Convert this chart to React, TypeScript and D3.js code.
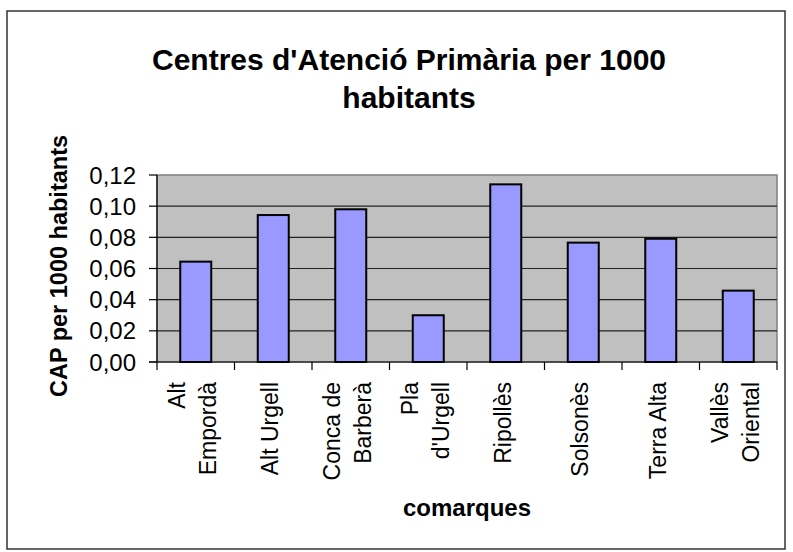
import React from 'react';
import * as d3 from 'd3';

const categories = ["Alt\nEmpordà", "Alt Urgell", "Conca de\nBarberà", "Pla\nd'Urgell", "Ripollès", "Solsonès", "Terra Alta", "Vallès\nOriental"];
const values = [0.0644, 0.0943, 0.098, 0.030, 0.114, 0.0766, 0.0791, 0.0458];
const yTicks = [0, 0.02, 0.04, 0.06, 0.08, 0.10, 0.12];
const titleLines = ["Centres d'Atenció Primària per 1000", "habitants"];
const yTitle = "CAP per 1000 habitants";
const xTitle = "comarques";

const W = 793, H = 552;
const plot = { left: 157, right: 777, top: 175, bottom: 362 };
const FONT = "'Liberation Sans', Arial, sans-serif";

export default function App() {
  const x = d3.scaleBand<string>().domain(categories).range([plot.left, plot.right]).paddingInner(0.6).paddingOuter(0.3);
  const y = d3.scaleLinear().domain([0, 0.12]).range([plot.bottom, plot.top]);
  const fmt = (v: number) => d3.format('.2f')(v).replace('.', ',');
  const step = x.step();
  const boundaries = d3.range(categories.length + 1).map(i => plot.left + i * step);

  return (
    <svg width={W} height={H} style={{ position: 'absolute', left: 0, top: 0, background: '#fff' }} fontFamily={FONT}>
      <rect x={7} y={11} width={778} height={538} fill="#fff" stroke="#333" strokeWidth={1.5} />
      {/* title */}
      {titleLines.map((t, i) => (
        <text key={i} x={409} y={70 + i * 38} textAnchor="middle" fontWeight="bold" fontSize={30}>{t}</text>
      ))}
      {/* plot background */}
      <rect x={plot.left} y={plot.top} width={plot.right - plot.left} height={plot.bottom - plot.top} fill="#C0C0C0" stroke="#808080" strokeWidth={1.5} />
      {/* gridlines */}
      {yTicks.filter(v => v > 0 && v < 0.12).map(v => (
        <line key={v} x1={plot.left} x2={plot.right} y1={y(v)} y2={y(v)} stroke="#222" strokeWidth={1.2} />
      ))}
      {/* bars */}
      {categories.map((c, i) => (
        <rect key={c} x={x(c)} y={y(values[i])} width={x.bandwidth()} height={plot.bottom - y(values[i])} fill="#9999FF" stroke="#000" strokeWidth={2} />
      ))}
      {/* y axis */}
      <line x1={plot.left} x2={plot.left} y1={plot.top} y2={plot.bottom} stroke="#000" strokeWidth={1.2} />
      {yTicks.map(v => (
        <g key={v}>
          <line x1={plot.left - 8} x2={plot.left} y1={y(v)} y2={y(v)} stroke="#000" strokeWidth={1.2} />
          <text x={136} y={y(v)} dy="0.36em" textAnchor="end" fontSize={24}>{fmt(v)}</text>
        </g>
      ))}
      {/* x axis */}
      <line x1={plot.left - 8} x2={plot.right} y1={plot.bottom} y2={plot.bottom} stroke="#000" strokeWidth={1.2} />
      {boundaries.map((b, i) => (
        <line key={i} x1={b} x2={b} y1={plot.bottom} y2={plot.bottom + 8} stroke="#000" strokeWidth={1.2} />
      ))}
      {categories.map(c => {
        const lines = c.split('\n');
        const cx = (x(c) as number) + x.bandwidth() / 2;
        return (
          <text key={c} transform={`translate(${cx},382) rotate(-90)`} textAnchor="end" fontSize={23}>
            {lines.map((l, i) => (
              <tspan key={i} x={0} y={(i - (lines.length - 1) / 2) * 31 + 5}>{l}</tspan>
            ))}
          </text>
        );
      })}
      {/* axis titles */}
      <text transform={`translate(67,266) rotate(-90)`} textAnchor="middle" fontWeight="bold" fontSize={23.5}>{yTitle}</text>
      <text x={467} y={516} textAnchor="middle" fontWeight="bold" fontSize={24}>{xTitle}</text>
    </svg>
  );
}
